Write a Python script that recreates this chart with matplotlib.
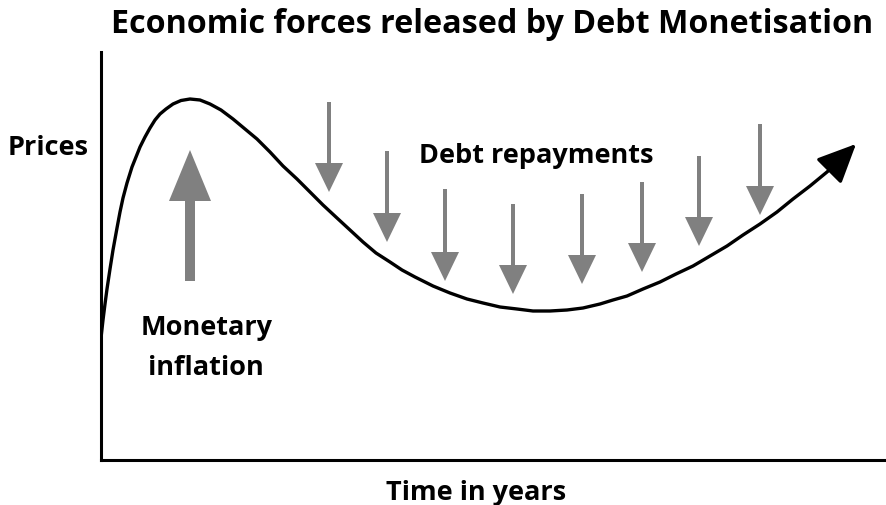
import matplotlib.pyplot as plt
import numpy as np

# curve of prices over time (x: time, y: price level)
curve_x = [0, 1, 2, 4, 6, 9, 12, 16, 19, 22, 26, 31, 35, 39, 44, 49, 54, 59, 65,
           72, 80, 89, 99, 109, 120, 132, 144, 156, 169, 182, 196, 209, 222, 236,
           249, 262, 275, 289, 301, 314, 332, 349, 366, 382, 399, 416, 432, 449,
           466, 482, 499, 512, 526, 542, 559, 575, 592, 609, 626, 642, 659, 676,
           692, 709, 726, 744]
curve_y = [122, 131, 140, 156, 171, 191, 210, 232, 248, 262, 277, 293, 303, 313,
           323, 332, 340, 346, 351, 356, 359.5, 361, 360, 356, 350, 341, 331, 321,
           308, 294, 281, 268, 255, 242, 230, 218, 207, 198, 190, 183, 174, 167,
           161, 157, 153, 151, 149, 149, 150, 152, 156, 160, 164, 171, 178, 186,
           194, 204, 214, 225, 236, 248, 261, 274, 288, 304]
curve_tip = (757, 318)

# big "monetary inflation" arrow
inflation_x = 89
inflation_from = 179
inflation_to = 310

# "debt repayments" arrows
repay_x = [228, 286, 344, 412, 481, 541, 598, 659]
repay_top = [358, 309, 271, 256, 266, 278, 304, 336]
repay_tip = [268, 218, 179, 166, 176, 188, 214, 245]

gray = '#808080'
fs = 'Open Sans'

fig = plt.figure(figsize=(8.86, 5.06), dpi=100)
ax = fig.add_axes([101 / 886, 45 / 506, 783 / 886, 408 / 506])
ax.set_xlim(0, 783)
ax.set_ylim(0, 408)

for s in ['top', 'right']:
    ax.spines[s].set_visible(False)
for s in ['left', 'bottom']:
    ax.spines[s].set_linewidth(2.2)
ax.set_xticks([])
ax.set_yticks([])

# price curve with arrow head at the end
ax.plot(curve_x, curve_y, color='black', lw=2.4, solid_capstyle='butt',
        solid_joinstyle='round', zorder=3)
ax.annotate('', xy=curve_tip, xytext=(curve_x[-1] - 4, curve_y[-1] - 3),
            arrowprops=dict(arrowstyle='-|>,head_length=1.2,head_width=0.55',
                            color='black', lw=2.4, mutation_scale=20),
            zorder=3)

# monetary inflation arrow
ax.arrow(inflation_x, inflation_from, 0, inflation_to - inflation_from,
         width=10, head_width=42, head_length=51, length_includes_head=True,
         color=gray, lw=0, zorder=2)

# debt repayment arrows
for x, top, tip in zip(repay_x, repay_top, repay_tip):
    ax.arrow(x, top, 0, tip - top, width=4, head_width=28, head_length=29,
             length_includes_head=True, color=gray, lw=0, zorder=2)

lbl = dict(ha='center', va='baseline', fontsize=19.5, fontweight='bold', family=fs,
           clip_on=False)
ax.text(391, 428, 'Economic forces released by Debt Monetisation',
        **{**lbl, 'fontsize': 23.2})
ax.text(-53, 306, 'Prices', **lbl)
ax.text(435, 298, 'Debt repayments', **lbl)
ax.text(106, 126, 'Monetary', **lbl)
ax.text(105, 86, 'inflation', **lbl)
ax.text(375, -39, 'Time in years', **lbl)

plt.savefig('out.png', dpi=100)
plt.close()
